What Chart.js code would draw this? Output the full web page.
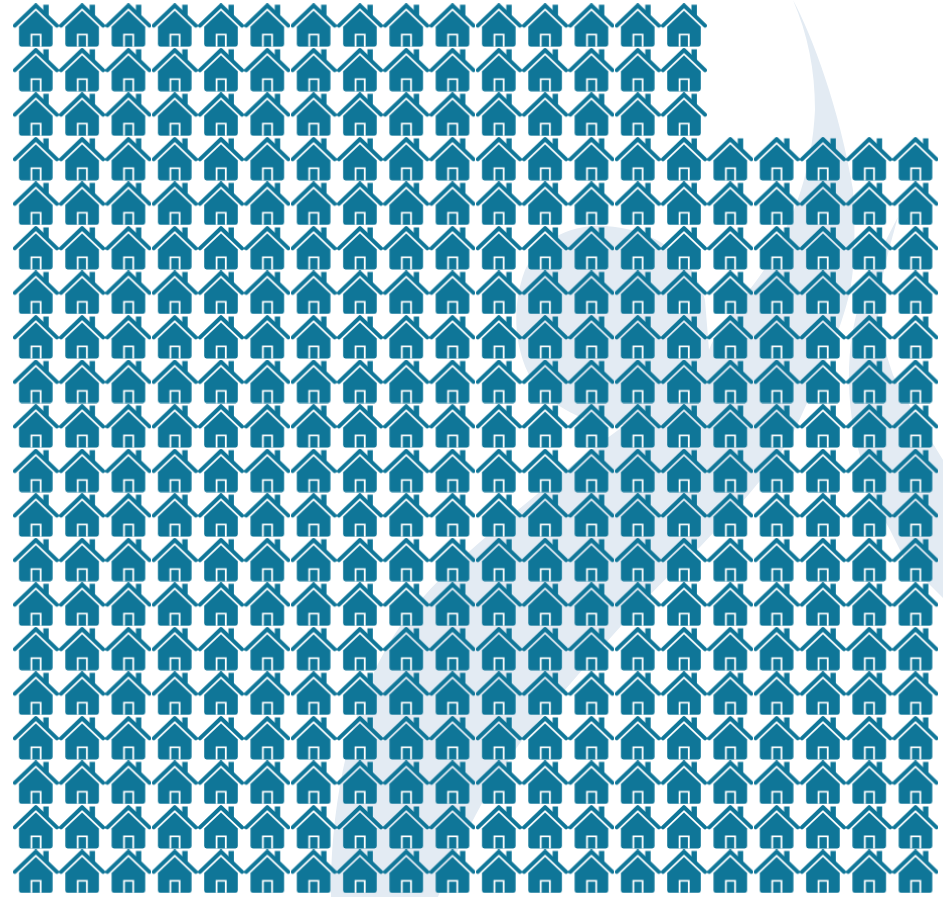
<!DOCTYPE html>
<html>
<head>
<meta charset="utf-8">
<title>Houses</title>
<script src="https://cdn.jsdelivr.net/npm/chart.js@4/dist/chart.umd.min.js"></script>
<style>
  html, body { margin: 0; padding: 0; background: #fff; }
  canvas { display: block; }
</style>
</head>
<body>
<canvas id="grafico" width="943" height="897"></canvas>
<script>
// how many houses stand in each column, counted from the bottom
const colunas = [1, 2, 3, 4, 5, 6, 7, 8, 9, 10, 11, 12, 13, 14, 15, 16, 17, 18, 19, 20];
const casasPorColuna = [20, 20, 20, 20, 20, 20, 20, 20, 20, 20, 20, 20, 20, 20, 20, 17, 17, 17, 17, 17];

const corCasa = '#0f7698';
const corFundo = '#e3ebf3';

// house icon, drawn once and used as the point style
function criarCasa() {
  const c = document.createElement('canvas');
  c.width = 46;
  c.height = 44;
  const ctx = c.getContext('2d');
  ctx.fillStyle = corCasa;
  ctx.strokeStyle = corCasa;

  // chimney
  ctx.fillRect(30.5, 1.5, 5.4, 10.5);

  // roof
  ctx.lineWidth = 4;
  ctx.lineCap = 'round';
  ctx.lineJoin = 'round';
  ctx.beginPath();
  ctx.moveTo(2, 22.4);
  ctx.lineTo(23, 2.2);
  ctx.lineTo(44, 22.4);
  ctx.stroke();

  // body
  ctx.beginPath();
  ctx.moveTo(23, 7.4);
  ctx.lineTo(39.8, 23.4);
  ctx.lineTo(39.8, 41);
  ctx.quadraticCurveTo(39.8, 43.4, 37.4, 43.4);
  ctx.lineTo(8.6, 43.4);
  ctx.quadraticCurveTo(6.2, 43.4, 6.2, 41);
  ctx.lineTo(6.2, 23.4);
  ctx.closePath();
  ctx.fill();

  // door
  ctx.fillStyle = '#fff';
  ctx.fillRect(17.7, 30.5, 11, 13);
  ctx.fillStyle = corCasa;
  ctx.fillRect(19.5, 32.2, 7.4, 11.2);
  return c;
}

// flame watermark behind the houses
const marcaDagua = {
  id: 'marcaDagua',
  beforeDatasetsDraw(chart) {
    const ctx = chart.ctx;
    ctx.save();
    ctx.fillStyle = corFundo;
    const formas = [
      'M793,0 C812,35 840,110 853,190 C856,240 855,280 845,310 C835,345 815,385 798,423 C775,470 735,510 700,547 C650,590 590,660 520,743 C490,785 460,840 438,897 L331,897 C330,820 345,720 387,647 C420,590 470,550 530,500 C560,475 590,450 625,425 C590,425 560,412 535,385 C515,355 510,310 525,270 C540,240 570,224 605,226 C650,228 695,255 705,300 L709,350 C720,320 750,295 770,260 C795,215 812,170 815,110 C815,70 808,35 793,0 Z',
      'M898,217 C880,250 862,290 855,320 C848,350 847,385 852,420 C858,455 870,495 890,530 L905,560 L943,598 L943,460 C925,430 905,400 893,375 C885,350 878,330 878,310 C880,280 890,245 898,217 Z'
    ];
    formas.forEach(f => ctx.fill(new Path2D(f)));
    ctx.restore();
  }
};

const pontos = [];
casasPorColuna.forEach((total, i) => {
  for (let linha = 0; linha < total; linha++) {
    pontos.push({ x: colunas[i], y: linha + 1 });
  }
});

new Chart(document.getElementById('grafico'), {
  type: 'scatter',
  data: {
    datasets: [{
      data: pontos,
      pointStyle: criarCasa(),
      pointRadius: 22,
      pointHoverRadius: 22,
      clip: false
    }]
  },
  options: {
    responsive: false,
    animation: false,
    layout: { padding: 0, autoPadding: false },
    plugins: { legend: { display: false }, tooltip: { enabled: false } },
    scales: {
      x: { display: false, min: 0.2271, max: 20.594 },
      y: { display: false, min: 0.4275, max: 20.566 }
    }
  },
  plugins: [marcaDagua]
});
</script>
</body>
</html>
